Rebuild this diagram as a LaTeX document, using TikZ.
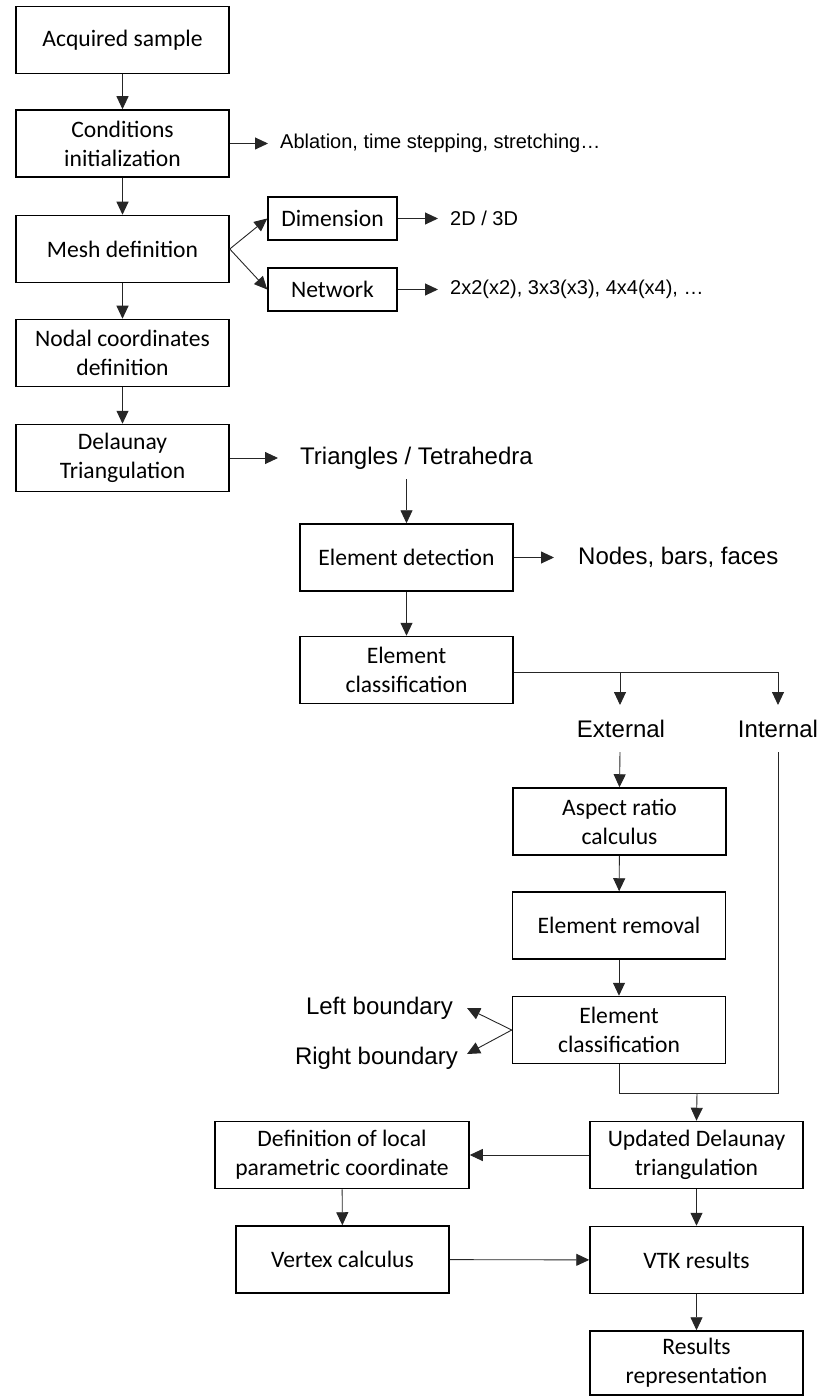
\documentclass[tikz,border=0pt]{standalone}
\usepackage{fontspec}
\setmainfont{Carlito}
\newfontfamily\arialfont{Liberation Sans}
\usetikzlibrary{arrows.meta}

\tikzset{
	box/.style={draw, line width=1.5pt, minimum width=213pt, minimum height=67pt, inner sep=2pt, align=center, font=\fontsize{23.6}{29}\selectfont},
	smallbox/.style={box, minimum width=129pt, minimum height=43pt},
	lbl/.style={inner sep=0pt, font=\arialfont\fontsize{24}{28}\selectfont},
	toplbl/.style={lbl, font=\arialfont\fontsize{20}{24}\selectfont},
	arr/.style={draw=black!85, line width=0.9pt, -{Triangle[length=13pt,width=12pt]}},
	ln/.style={draw=black!85, line width=0.9pt}
}

\begin{document}
\begin{tikzpicture}[x=1pt, y=-1pt]
\useasboundingbox (0,0) rectangle (824,1396);

% left column
\node[box] (acq) at (122.5,40) {Acquired sample};
\node[box] (cond) at (122.5,143.5) {Conditions\\initialization};
\node[box] (mesh) at (122.5,249) {Mesh definition};
\node[box] (nodal) at (122.5,353) {Nodal coordinates\\definition};
\node[box] (delau) at (122.5,458) {Delaunay\\Triangulation};
\draw[arr] (acq) -- (cond);
\draw[arr] (cond) -- (mesh);
\draw[arr] (mesh) -- (nodal);
\draw[arr] (nodal) -- (delau);

% mesh options
\node[smallbox] (dim) at (332.5,218.5) {Dimension};
\node[smallbox] (net) at (332.5,289.5) {Network};
\node[toplbl, anchor=west] (abl) at (280,143.5) {Ablation, time stepping, stretching\ldots};
\node[toplbl, anchor=west] (dimtxt) at (450,218.5) {2D / 3D};
\node[toplbl, anchor=west] (nettxt) at (450,289.5) {2x2(x2), 3x3(x3), 4x4(x4), \ldots};
\draw[arr] (cond.east) -- ([xshift=-12pt]abl.west);
\draw[arr] (mesh.east) -- (dim.west);
\draw[arr] (mesh.east) -- (net.west);
\draw[arr] (dim.east) -- ([xshift=-12pt]dimtxt.west);
\draw[arr] (net.east) -- ([xshift=-12pt]nettxt.west);

% triangulation
\node[lbl, anchor=west] (tri) at (300,458) {Triangles / Tetrahedra};
\node[box] (det) at (406.5,557.5) {Element detection};
\node[lbl, anchor=west] (faces) at (578,557.5) {Nodes, bars, faces};
\node[box] (cls) at (406.5,670) {Element\\classification};
\draw[arr] (delau.east) -- ([xshift=-22pt]tri.west);
\draw[arr] ([yshift=-10pt]tri.south -| det.north) -- (det.north);
\draw[arr] (det.east) -- ([xshift=-24pt]faces.west);
\draw[arr] (det) -- (cls);

% external / internal
\node[lbl] (ext) at (621,729) {External};
\node[lbl] (int) at (778,729) {Internal};
\coordinate (split) at (778,672);
\coordinate (extsplit) at (620,672);
\draw[ln] (cls.east |- split) -- (split);
\draw[arr] (extsplit) -- (620,705);
\draw[arr] (split) -- (778,705);

\node[box] (asp) at (619.5,821.5) {Aspect ratio\\calculus};
\node[box] (rem) at (619,925.5) {Element removal};
\node[box] (cls2) at (619,1030) {Element\\classification};
\draw[arr] (620,752) -- (asp.north);
\draw[arr] (asp) -- (rem);
\draw[arr] (rem) -- (cls2);

\node[lbl, anchor=east] (lb) at (453,1008) {Left boundary};
\node[lbl, anchor=east] (rb) at (458,1058) {Right boundary};
\draw[arr] (cls2.west) -- ([xshift=14pt]lb.east);
\draw[arr] (cls2.west) -- ([xshift=9pt,yshift=4pt]rb.east);

% merge
\coordinate (merge) at (697,1093);
\draw[ln] (cls2.south) |- (merge) -| (778,752);

\node[box] (upd) at (696.5,1155) {Updated Delaunay\\triangulation};
\node[box, minimum width=254pt] (def) at (342,1155) {Definition of local\\parametric coordinate};
\node[box] (vtx) at (342.5,1259.5) {Vertex calculus};
\node[box] (vtk) at (696.5,1260) {VTK results};
\node[box, minimum height=64pt] (res) at (696.5,1363) {Results\\representation};
\draw[arr] (merge) -- (upd.north);
\draw[arr] (upd) -- (def);
\draw[arr] (def) -- (vtx);
\draw[arr] (vtx) -- (vtk);
\draw[arr] (upd) -- (vtk);
\draw[arr] (vtk) -- (res);
\end{tikzpicture}
\end{document}
